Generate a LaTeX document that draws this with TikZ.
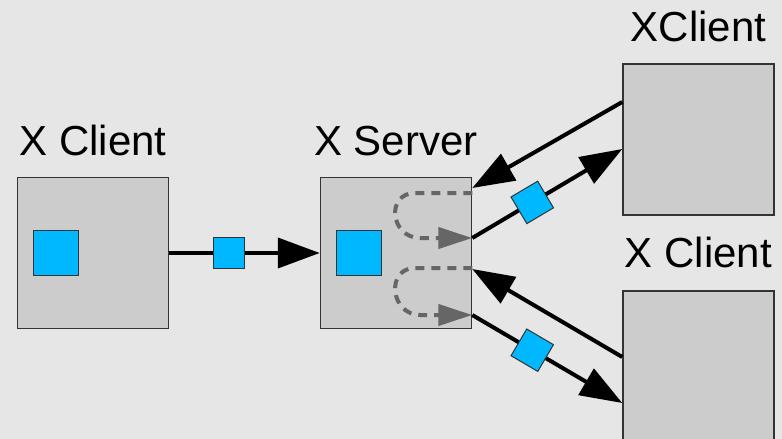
\documentclass[tikz,border=0pt]{standalone}
\usepackage{fontspec}
\setmainfont{Liberation Sans}
\usetikzlibrary{arrows.meta}
\definecolor{bg}{HTML}{E6E6E6}
\definecolor{boxgray}{HTML}{CCCCCC}
\definecolor{pktblue}{HTML}{00B8FF}
\definecolor{loopgray}{HTML}{666666}
\tikzset{>={Triangle[length=42pt,width=30pt]},
  box/.style = {rectangle,fill=boxgray,draw=black!80,line width=1.5pt,
    minimum width=151pt,minimum height=151pt,inner sep=0pt},
  pkt/.style = {rectangle,fill=pktblue,draw=black!80,line width=1pt,
    minimum size=#1,inner sep=0pt},
  pkt/.default = 31pt,
  lbl/.style = {anchor=base,font=\fontsize{42}{48}\selectfont,inner sep=0pt},
  msg/.style = {->,line width=4pt,black},
  loop/.style = {-{Triangle[length=34pt,width=21pt]},line width=4pt,
    loopgray,dash pattern=on 9pt off 7pt}
}

\begin{document}
\begin{tikzpicture}[x=1pt,y=-1pt]
  \useasboundingbox (0,0) rectangle (782,439);
  \clip (0,0) rectangle (782,439);
  \fill[bg] (0,0) rectangle (782,439);

  \node[box] (cl) at (93,253) {};
  \node[box] (srv) at (396,253) {};
  \node[box] (ct) at (698.5,139.5) {};
  \node[box] (cb) at (698.5,366.5) {};
  \node[pkt=45pt] (cl pkt) at (55.5,253) {};
  \node[pkt=45pt] (srv pkt) at (358.5,253) {};

  \node[lbl] (cl lbl) at ([yshift=21pt]cl.north) {X Client};
  \node[lbl] (srv lbl) at ([yshift=21pt]srv.north) {X Server};
  \node[lbl] (ct lbl) at ([yshift=22pt]ct.north) {XClient};
  \node[lbl] (cb lbl) at ([yshift=23pt]cb.north) {X Client};

  \coordinate (s1) at ([yshift=65pt]srv.east);
  \coordinate (s2) at ([yshift=15pt]srv.east);
  \coordinate (s3) at ([yshift=-16pt]srv.east);
  \coordinate (s4) at ([yshift=-62pt]srv.east);

  % loops inside the server
  \draw[loop] ([yshift=60pt]srv.east) -- ++(-57,0)
    .. controls +(-30,0) and +(-30,0) .. ([xshift=-52pt]s2) -- (s2);
  \draw[loop] ([yshift=-15pt]srv.east) -- ++(-57,0)
    .. controls +(-30,0) and +(-30,0) .. ([xshift=-52pt]s4) -- (s4);

  \draw[msg] (cl.east) -- (srv.west) node[pkt,pos=0.4] (p0) {};
  \draw[msg] ([yshift=37.5pt]ct.west) -- (s1);
  \draw[msg] (s2) -- ([yshift=-9.5pt]ct.west) node[pkt,sloped,pos=0.4] (p1) {};
  \draw[msg] ([yshift=9.5pt]cb.west) -- (s3);
  \draw[msg] (s4) -- ([yshift=-36.5pt]cb.west) node[pkt,sloped,pos=0.4] (p2) {};
\end{tikzpicture}
\end{document}
